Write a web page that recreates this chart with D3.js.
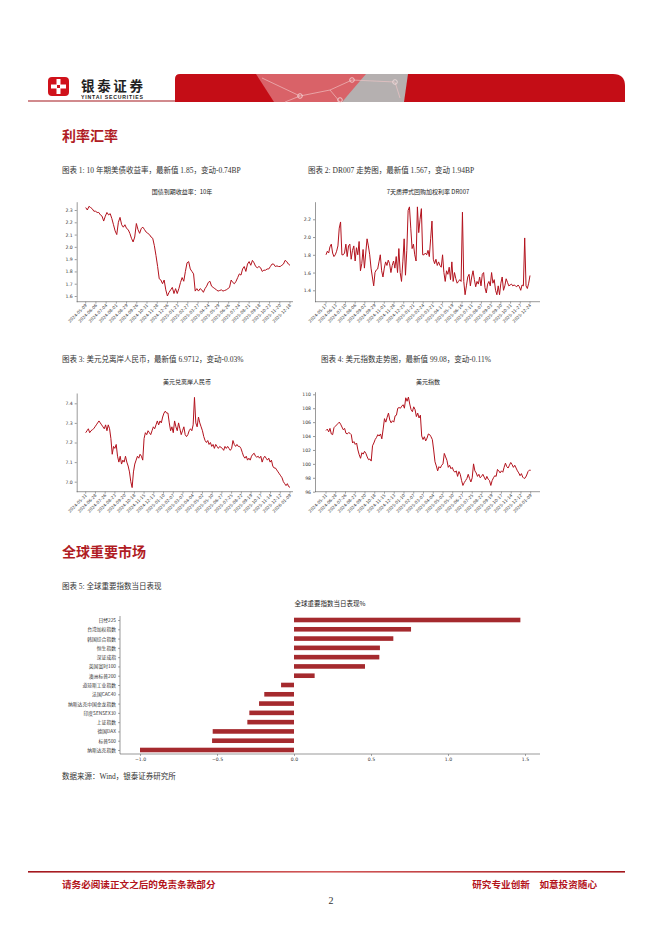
<!DOCTYPE html>
<html><head><meta charset="utf-8">
<script src="https://cdn.jsdelivr.net/npm/d3@7"></script>
<style>html,body{margin:0;padding:0;background:#fff;} svg{display:block}</style>
</head><body><svg id="c" width="662" height="936"></svg>
<script>
// ---------- DATA ----------
const bondYield = [2.32,2.30,2.33,2.32,2.31,2.29,2.29,2.28,2.28,2.26,2.25,2.21,2.25,2.28,2.26,2.27,2.23,2.18,2.13,2.10,2.20,2.24,2.18,2.16,2.18,2.15,2.14,2.11,2.07,2.04,2.08,2.19,2.14,2.11,2.15,2.16,2.14,2.12,2.11,2.10,2.08,2.07,2.01,1.93,1.84,1.74,1.73,1.70,1.73,1.65,1.60,1.63,1.65,1.67,1.62,1.66,1.62,1.66,1.71,1.75,1.72,1.80,1.87,1.88,1.82,1.80,1.78,1.64,1.66,1.64,1.66,1.65,1.63,1.66,1.68,1.71,1.72,1.68,1.67,1.66,1.65,1.64,1.645,1.65,1.64,1.645,1.65,1.66,1.67,1.73,1.71,1.70,1.72,1.75,1.78,1.77,1.82,1.84,1.80,1.86,1.88,1.85,1.89,1.87,1.84,1.83,1.84,1.83,1.80,1.81,1.81,1.82,1.82,1.84,1.86,1.86,1.84,1.845,1.84,1.84,1.85,1.86,1.89,1.88,1.86,1.85];
const bondTicks = ["2024-05-09","2024-06-06","2024-07-04","2024-08-01","2024-08-29","2024-09-26","2024-10-31","2024-11-28","2024-12-26","2025-01-23","2025-02-27","2025-03-27","2025-04-24","2025-05-29","2025-06-26","2025-07-24","2025-08-21","2025-09-18","2025-10-23","2025-11-20","2025-12-18"];
const bondYTicks = [1.6,1.7,1.8,1.9,2.0,2.1,2.2,2.3];

const dr007 = [1.80,1.84,1.82,1.89,1.92,1.82,1.78,1.80,1.84,1.90,2.10,2.17,1.80,1.80,1.82,1.92,1.78,1.90,1.92,1.75,1.85,1.90,1.73,1.88,1.80,1.95,1.62,1.70,1.86,1.65,1.82,1.98,1.90,1.80,1.65,1.55,1.45,1.60,1.63,1.64,1.72,1.80,1.62,1.55,1.65,1.72,1.68,1.74,1.70,1.60,1.68,1.73,1.65,1.78,1.60,1.87,1.60,1.50,1.72,1.98,1.57,1.85,2.30,2.34,2.10,1.87,1.92,1.80,1.73,2.34,2.05,2.20,2.32,1.80,1.80,1.82,1.80,1.85,1.78,1.98,2.18,1.75,1.70,1.75,1.68,1.72,1.68,1.66,1.80,1.60,1.50,1.62,1.58,1.66,1.52,1.72,1.50,1.60,1.53,1.48,1.50,1.52,1.50,2.28,1.50,1.35,1.45,1.55,1.58,1.45,1.55,1.62,1.52,1.44,1.50,1.47,1.55,1.45,1.58,1.60,1.43,1.37,1.47,1.50,1.45,1.60,1.48,1.52,1.40,1.35,1.45,1.35,1.48,1.55,1.40,1.45,1.53,1.49,1.45,1.46,1.47,1.45,1.46,1.45,1.44,1.46,1.44,1.40,1.46,1.45,1.99,1.45,1.42,1.48,1.567];
const drTicks = ["2024-05-17","2024-06-13","2024-07-10","2024-08-06","2024-09-02","2024-09-29","2024-11-01","2024-11-28","2024-12-25","2025-01-21","2025-02-24","2025-03-21","2025-04-17","2025-05-19","2025-06-16","2025-07-11","2025-08-07","2025-09-03","2025-09-30","2025-10-31","2025-11-27","2025-12-24"];
const drYTicks = [1.4,1.6,1.8,2.0,2.2];

const usdcnh = [7.25,7.26,7.27,7.25,7.26,7.265,7.27,7.28,7.29,7.30,7.31,7.30,7.29,7.28,7.27,7.29,7.26,7.29,7.27,7.22,7.14,7.18,7.17,7.19,7.13,7.10,7.13,7.09,7.11,7.10,7.13,7.10,7.08,7.05,7.00,6.97,7.05,7.09,7.11,7.13,7.12,7.14,7.13,7.11,7.22,7.25,7.24,7.26,7.25,7.24,7.26,7.28,7.27,7.29,7.31,7.29,7.31,7.30,7.33,7.35,7.36,7.35,7.35,7.30,7.26,7.28,7.25,7.31,7.28,7.26,7.30,7.27,7.24,7.26,7.28,7.24,7.23,7.24,7.26,7.27,7.26,7.29,7.43,7.30,7.28,7.33,7.30,7.28,7.26,7.23,7.21,7.20,7.21,7.19,7.20,7.18,7.19,7.17,7.19,7.18,7.17,7.18,7.175,7.17,7.16,7.18,7.17,7.18,7.17,7.16,7.17,7.21,7.19,7.18,7.19,7.18,7.18,7.17,7.15,7.13,7.12,7.13,7.11,7.12,7.11,7.13,7.14,7.145,7.13,7.125,7.13,7.12,7.13,7.10,7.12,7.13,7.12,7.11,7.12,7.10,7.11,7.08,7.07,7.07,7.06,7.05,7.04,7.03,7.02,7.00,6.99,6.98,6.99,6.975,6.9712];
const fxTicks = ["2024-05-31","2024-06-28","2024-07-26","2024-08-23","2024-09-20","2024-10-18","2024-11-15","2024-12-13","2025-01-10","2025-02-07","2025-03-07","2025-04-04","2025-05-02","2025-05-30","2025-06-27","2025-07-25","2025-08-22","2025-09-19","2025-10-17","2025-11-14","2025-12-12","2026-01-09"];
const cnhYTicks = [7.0,7.1,7.2,7.3,7.4];

const dxy = [104.8,105.0,104.6,105.1,104.3,104.2,105.2,105.4,105.6,105.8,106.0,105.7,105.3,104.9,105.1,104.4,104.3,104.5,104.4,104.2,103.0,103.2,102.8,103.0,102.0,101.3,100.8,101.6,101.4,101.8,101.5,101.0,100.6,100.7,100.4,102.6,103.0,103.5,103.8,104.2,104.0,104.3,103.6,105.0,106.5,106.0,106.7,107.3,106.3,105.9,106.2,106.0,106.9,107.0,108.0,108.1,108.0,108.3,108.5,108.0,109.5,109.0,109.6,108.6,107.8,107.5,108.2,107.8,106.8,107.3,106.6,107.0,104.0,103.5,103.9,103.3,103.7,104.3,104.2,103.9,103.5,102.0,100.3,99.7,99.0,99.6,99.4,99.8,100.0,101.5,101.0,100.5,99.5,99.8,99.3,99.5,99.0,98.8,99.0,98.2,98.9,98.5,97.6,96.9,97.3,97.6,97.9,98.5,97.9,97.4,98.0,100.0,99.0,98.7,98.2,98.5,98.0,98.2,98.5,98.1,97.7,98.2,97.8,97.6,96.9,97.6,98.0,98.3,98.2,99.2,99.0,98.7,99.0,98.8,99.5,100.1,99.6,99.4,99.8,100.2,99.9,99.5,99.8,99.4,99.0,98.7,98.3,98.6,98.1,97.9,98.0,98.4,98.9,99.1,99.08];
const dxyYTicks = [96,98,100,102,104,106,108,110];

const indexNames = ["日经225","台湾加权指数","韩国综合指数","恒生指数","深证成指","英国富时100","澳洲标普200","道琼斯工业指数","法国CAC40","纳斯达克中国金龙指数","印度SENSEX30","上证指数","德国DAX","标普500","纳斯达克指数"];
const indexChange = [1.47,0.76,0.645,0.558,0.554,0.461,0.134,-0.084,-0.193,-0.227,-0.29,-0.303,-0.528,-0.532,-1.0];
const barXTicks = [-1.0,-0.5,0.0,0.5,1.0,1.5];

// ---------- DRAW ----------
const svg = d3.select("#c");
svg.append("rect").attr("width",662).attr("height",936).attr("fill","#fff");
const CJK = "'Noto Sans CJK SC','Noto Sans',sans-serif";
const SERIF = "'Liberation Serif','Noto Sans CJK SC',serif";
const LINE = "#b3121d";

// Header
const defs = svg.append("defs");
const fg = defs.append("linearGradient").attr("id","fg");
fg.append("stop").attr("offset","0%").attr("stop-color","#a3161c");
fg.append("stop").attr("offset","50%").attr("stop-color","#d35a5a");
fg.append("stop").attr("offset","100%").attr("stop-color","#a3161c");

const hdr = svg.append("g");
hdr.append("line").attr("x1",28).attr("x2",176).attr("y1",101).attr("y2",101).attr("stroke","#a3161c").attr("stroke-width",1.2);
hdr.append("path").attr("d","M175,102 L175,79 Q175,74 180,74 L613,74 Q625,74 625,86 L625,102 Z").attr("fill","#c40d16");
hdr.append("path").attr("d","M256,74 L370,74 L342,102 L274,102 Z").attr("fill","#e07f84").attr("opacity",0.75);
hdr.append("path").attr("d","M366,74 L408,74 L404,102 L342,102 Z").attr("fill","#b5b0b0");
const net = [[262,78,300,96],[300,96,330,90],[330,90,352,80],[352,80,395,82],[300,96,285,102],[330,90,340,102],[395,82,400,98]];
net.forEach(l=>hdr.append("line").attr("x1",l[0]).attr("y1",l[1]).attr("x2",l[2]).attr("y2",l[3]).attr("stroke","#f2c6c8").attr("stroke-width",0.8).attr("opacity",0.8));
[[300,96],[352,80],[395,82],[340,100]].forEach(p=>hdr.append("circle").attr("cx",p[0]).attr("cy",p[1]).attr("r",2.3).attr("fill","none").attr("stroke","#f5dede").attr("stroke-width",0.8));
// logo icon
const lg = hdr.append("g");
lg.append("path").attr("d","M52,77 L65,77 Q69,77 69,81 L69,92 Q69,96 65,96 L52,96 Q48,96 48,92 L48,81 Q48,77 52,77 Z").attr("fill","#d0121b");
lg.append("rect").attr("x",56.5).attr("y",79).attr("width",4).attr("height",15).attr("fill","#fff");
lg.append("rect").attr("x",51).attr("y",84.5).attr("width",15).attr("height",4).attr("fill","#fff");
lg.append("rect").attr("x",57).attr("y",85).attr("width",3).attr("height",3).attr("fill","#d0121b");
hdr.append("text").attr("x",81).attr("y",90.5).text("银泰证券").attr("font-family",CJK).attr("font-weight",700).attr("font-size",13.5).attr("textLength",62).attr("fill","#222");
hdr.append("text").attr("x",81).attr("y",99).text("YINTAI SECURITIES").attr("font-family","'Liberation Sans',sans-serif").attr("font-weight",700).attr("font-size",5.2).attr("textLength",62).attr("fill","#222");

// Section titles
function section(t,y){svg.append("text").attr("x",62).attr("y",y).text(t).attr("font-family",CJK).attr("font-weight",700).attr("font-size",14).attr("fill","#b01c24");}
section("利率汇率",141);
section("全球重要市场",557);

function caption(t,x,y){svg.append("text").attr("x",x).attr("y",y).text(t).attr("font-family",SERIF).attr("font-size",7.5).attr("fill","#333");}
caption("图表 1: 10 年期美债收益率，最新值 1.85，变动-0.74BP",62,173);
caption("图表 2: DR007 走势图，最新值 1.567，变动 1.94BP",308,173);
caption("图表 3: 美元兑离岸人民币，最新值 6.9712，变动-0.03%",62,362);
caption("图表 4: 美元指数走势图，最新值 99.08，变动-0.11%",321,362);
caption("图表 5: 全球重要指数当日表现",62,589);
caption("数据来源：Wind，银泰证券研究所",62,779);

function lineChart(o){
  const g = svg.append("g");
  g.append("text").attr("x",o.titleX).attr("y",o.titleY).attr("text-anchor","middle").text(o.title)
   .attr("font-family",CJK).attr("font-size",6).attr("fill","#222");
  const y = d3.scaleLinear().domain([o.v0,o.v1]).range([o.p0,o.p1]);
  const dBot = y.invert(o.bottom), dTop = y.invert(o.top);
  y.domain([dBot,dTop]).range([o.bottom,o.top]);
  const x = d3.scaleLinear().domain([0,1]).range([o.lx0,o.lx1]);
  const ya = d3.axisLeft(y).tickValues(o.yTicks).tickFormat(d3.format(o.fmt)).tickSize(2).tickSizeOuter(0).tickPadding(2);
  const yg = g.append("g").attr("transform",`translate(${o.axisX},0)`).call(ya);
  yg.selectAll("text").attr("font-family","'DejaVu Sans',sans-serif").attr("font-size",4.6).attr("fill","#333");
  yg.selectAll("line,path").attr("stroke","#555").attr("stroke-width",0.6);
  g.append("line").attr("x1",o.axisX).attr("x2",o.right).attr("y1",o.bottom).attr("y2",o.bottom).attr("stroke","#555").attr("stroke-width",0.6);
  const m = o.xTicks.length;
  o.xTicks.forEach((t,j)=>{
    const px = x(j/(m-1));
    g.append("line").attr("x1",px).attr("x2",px).attr("y1",o.bottom).attr("y2",o.bottom+2).attr("stroke","#555").attr("stroke-width",0.5);
    g.append("text").attr("transform",`translate(${px+1.5},${o.bottom+4}) rotate(-45)`).attr("text-anchor","end")
     .attr("font-family","'DejaVu Sans',sans-serif").attr("font-size",4.2).attr("fill","#444").text(t);
  });
  const n = o.values.length;
  const line = d3.line().x((d,i)=>x(i/(n-1))).y(d=>y(d));
  g.append("path").datum(o.values).attr("d",line).attr("fill","none").attr("stroke",LINE).attr("stroke-width",1).attr("stroke-linejoin","round");
}

lineChart({values:bondYield,xTicks:bondTicks,yTicks:bondYTicks,fmt:".1f",title:"国债到期收益率：10年",titleX:182,titleY:194,
  v0:1.6,v1:2.3,p0:296,p1:210,bottom:301.7,top:201.7,axisX:76.7,right:293,lx0:85.7,lx1:290});
lineChart({values:dr007,xTicks:drTicks,yTicks:drYTicks,fmt:".1f",title:"7天质押式回购加权利率 DR007",titleX:428,titleY:194,
  v0:1.4,v1:2.2,p0:290.3,p1:219.3,bottom:301.7,top:201.7,axisX:315,right:540,lx0:326,lx1:530});
lineChart({values:usdcnh,xTicks:fxTicks,yTicks:cnhYTicks,fmt:".1f",title:"美元兑离岸人民币",titleX:187,titleY:384,
  v0:7.0,v1:7.4,p0:481.7,p1:403.3,bottom:491.7,top:393,axisX:76.7,right:293,lx0:85.7,lx1:290});
lineChart({values:dxy,xTicks:fxTicks,yTicks:dxyYTicks,fmt:"d",title:"美元指数",titleX:428,titleY:384,
  v0:96,v1:110,p0:491.7,p1:394.3,bottom:491.7,top:391.7,axisX:315,right:540,lx0:326,lx1:530.7});

// Bar chart
(function(){
  const g = svg.append("g");
  g.append("text").attr("x",330).attr("y",606).attr("text-anchor","middle").text("全球重要指数当日表现%")
   .attr("font-family",CJK).attr("font-size",6.5).attr("fill","#222");
  const x = d3.scaleLinear().domain([-1,1.5]).range([140,525]);
  const y = d3.scalePoint().domain(indexNames).range([620,750]);
  const bh = 4.6;
  g.selectAll("rect.bar").data(indexChange).enter().append("rect")
   .attr("x",d=>Math.min(x(0),x(d))).attr("width",d=>Math.abs(x(d)-x(0)))
   .attr("y",(d,i)=>y(indexNames[i])-bh/2).attr("height",bh).attr("fill","#a52a2e");
  const ya = d3.axisLeft(y).tickSize(2).tickSizeOuter(0).tickPadding(2);
  const yg = g.append("g").attr("transform","translate(120,0)").call(ya);
  yg.select(".domain").remove();
  g.append("line").attr("x1",120).attr("x2",120).attr("y1",616).attr("y2",754).attr("stroke","#555").attr("stroke-width",0.6);
  yg.selectAll("text").attr("font-family",CJK).attr("font-size",4.8).attr("fill","#333");
  yg.selectAll("line").attr("stroke","#555").attr("stroke-width",0.5);
  const xa = d3.axisBottom(x).tickValues(barXTicks).tickFormat(d3.format(".1f")).tickSize(2).tickSizeOuter(0).tickPadding(2);
  const xg = g.append("g").attr("transform","translate(0,754)").call(xa);
  xg.select(".domain").remove();
  g.append("line").attr("x1",120).attr("x2",540).attr("y1",754).attr("y2",754).attr("stroke","#555").attr("stroke-width",0.6);
  xg.selectAll("text").attr("font-family","'DejaVu Sans',sans-serif").attr("font-size",4.6).attr("fill","#333");
  xg.selectAll("line").attr("stroke","#555").attr("stroke-width",0.5);
})();

// Footer
svg.append("rect").attr("x",28).attr("y",871).attr("width",597).attr("height",1.6).attr("fill","url(#fg)");
svg.append("text").attr("x",62).attr("y",888).text("请务必阅读正文之后的免责条款部分").attr("font-family",CJK).attr("font-weight",700).attr("font-size",9.6).attr("fill","#b3141c");
svg.append("text").attr("x",597).attr("y",888).attr("text-anchor","end").text("研究专业创新　如意投资随心").attr("font-family",CJK).attr("font-weight",700).attr("font-size",9.6).attr("fill","#b3141c");
svg.append("text").attr("x",331).attr("y",904).attr("text-anchor","middle").text("2").attr("font-family",SERIF).attr("font-size",10).attr("fill","#333");
</script></body></html>
